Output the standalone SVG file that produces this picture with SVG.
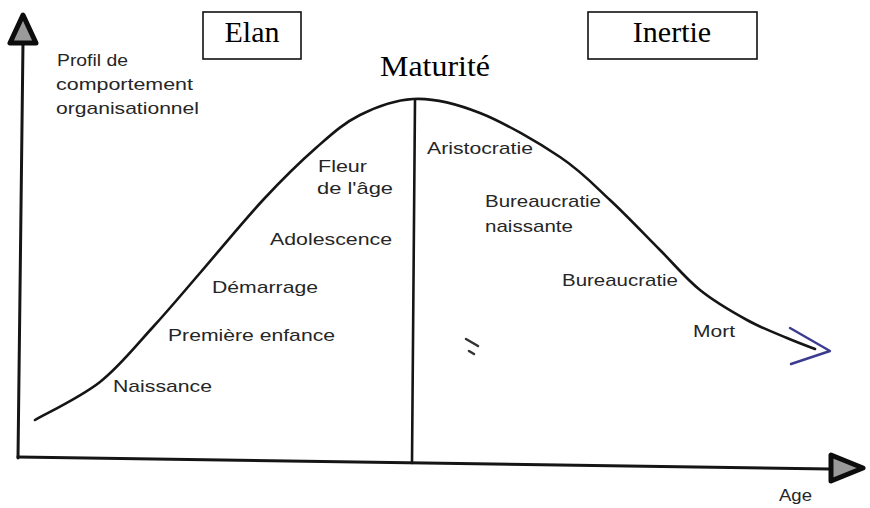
<svg xmlns="http://www.w3.org/2000/svg" width="870" height="508" viewBox="0 0 870 508">
<style>
  .lbl { font-family: "Liberation Sans", Arial, sans-serif; font-size: 17px; fill: #262626; }
  .tt { font-family: "Liberation Serif", "Times New Roman", serif; font-size: 30px; fill: #000; }
  .box { fill: #fff; stroke: #111; stroke-width: 1.6; }
  .axis { stroke: #151515; stroke-width: 3; fill: none; stroke-linecap: round; }
  .curve { stroke: #151515; stroke-width: 2.6; fill: none; stroke-linecap: round; }
  .head { fill: #9a9a9a; stroke: #0d0d0d; stroke-width: 5; stroke-linejoin: round; }
</style>
<rect width="870" height="508" fill="#fff"/>

<g id="connectors">
  <line class="axis" x1="23" y1="42" x2="18" y2="458"/>
  <polygon class="head" points="23,15 10,43 36,43"/>
  <line class="axis" x1="18" y1="457" x2="830" y2="469"/>
  <polygon class="head" points="863,468 831,455 831,481"/>
  <line class="curve" x1="415" y1="100" x2="412" y2="463"/>
  <path class="curve" d="M35,420 C45.8,413.7 80.3,397.5 100,382 C119.7,366.5 136.3,345.2 153,327 C169.7,308.8 181.7,294.2 200,273 C218.3,251.8 243.5,221 263,200 C282.5,179 300.8,161.2 317,147 C333.2,132.8 344,123 360,115 C376,107 393,100.2 413,99 C433,97.8 455.5,103.3 480,113 C504.5,122.7 538.3,142.5 560,157 C581.7,171.5 593.3,184.5 610,200 C626.7,215.5 645,235 660,250 C675,265 685.5,278.3 700,290 C714.5,301.7 732.5,312 747,320 C761.5,328 775.7,333.2 787,338 C798.3,342.8 810.3,347.2 815,349"/>
  <polyline points="790,328 830,351 791,364" fill="none" stroke="#3b3b8f" stroke-width="2.4" stroke-linejoin="round" stroke-linecap="round"/>
</g>

<g id="mark">
  <line x1="466" y1="339" x2="478" y2="346" stroke="#333" stroke-width="2.5" stroke-linecap="round"/>
  <line x1="469" y1="351" x2="474" y2="354" stroke="#333" stroke-width="2.5" stroke-linecap="round"/>
</g>

<g id="elan">
  <rect class="box" x="203" y="12" width="98" height="47"/>
  <text class="tt" x="252" y="42" text-anchor="middle">Elan</text>
</g>
<g id="inertie">
  <rect class="box" x="588" y="12" width="169" height="47"/>
  <text class="tt" x="672" y="42" text-anchor="middle">Inertie</text>
</g>
<g id="maturite">
  <text class="tt" x="380" y="76" textLength="110" lengthAdjust="spacingAndGlyphs">Maturité</text>
</g>

<g id="y-label">
  <text class="lbl" x="57" y="66" textLength="71" lengthAdjust="spacingAndGlyphs">Profil de</text>
  <text class="lbl" x="56" y="90" textLength="137" lengthAdjust="spacingAndGlyphs">comportement</text>
  <text class="lbl" x="56" y="114" textLength="143" lengthAdjust="spacingAndGlyphs">organisationnel</text>
</g>
<g id="x-label">
  <text class="lbl" x="779" y="501" textLength="33" lengthAdjust="spacingAndGlyphs">Age</text>
</g>

<g id="naissance"><text class="lbl" x="113" y="392" textLength="99" lengthAdjust="spacingAndGlyphs">Naissance</text></g>
<g id="premiere-enfance"><text class="lbl" x="168" y="341" textLength="167" lengthAdjust="spacingAndGlyphs">Première enfance</text></g>
<g id="demarrage"><text class="lbl" x="212" y="293" textLength="106" lengthAdjust="spacingAndGlyphs">Démarrage</text></g>
<g id="adolescence"><text class="lbl" x="270" y="245" textLength="122" lengthAdjust="spacingAndGlyphs">Adolescence</text></g>
<g id="fleur-age">
  <text class="lbl" x="318" y="172" textLength="49" lengthAdjust="spacingAndGlyphs">Fleur</text>
  <text class="lbl" x="317" y="194" textLength="76" lengthAdjust="spacingAndGlyphs">de l'âge</text>
</g>
<g id="aristocratie"><text class="lbl" x="427" y="154" textLength="106" lengthAdjust="spacingAndGlyphs">Aristocratie</text></g>
<g id="bureaucratie-naissante">
  <text class="lbl" x="485" y="207" textLength="116" lengthAdjust="spacingAndGlyphs">Bureaucratie</text>
  <text class="lbl" x="485" y="232" textLength="88" lengthAdjust="spacingAndGlyphs">naissante</text>
</g>
<g id="bureaucratie"><text class="lbl" x="562" y="286" textLength="116" lengthAdjust="spacingAndGlyphs">Bureaucratie</text></g>
<g id="mort"><text class="lbl" x="693" y="337" textLength="42" lengthAdjust="spacingAndGlyphs">Mort</text></g>
</svg>
